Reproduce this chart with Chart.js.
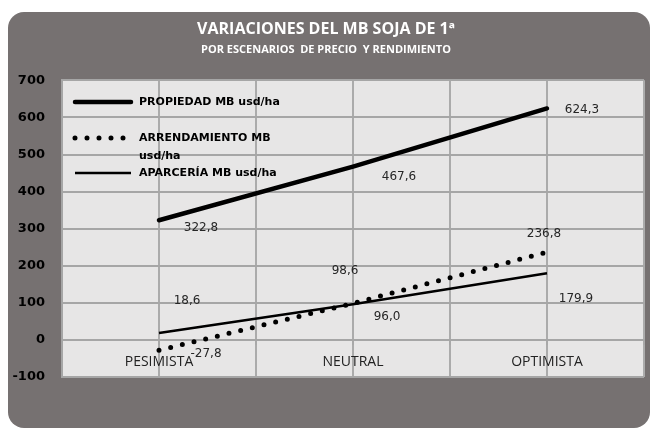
<!DOCTYPE html>
<html><head><meta charset="utf-8">
<script src="https://cdn.jsdelivr.net/npm/chart.js@4.4.0/dist/chart.umd.min.js"></script>
<style>html,body{margin:0;padding:0;background:#fff;}canvas{display:block;}</style>
</head><body>
<canvas id="c" width="654" height="429"></canvas>
<script>
// ---- data ----
const categories = ['PESIMISTA', 'NEUTRAL', 'OPTIMISTA'];
const propiedad = [322.8, 467.6, 624.3];
const arrendamiento = [-27.8, 98.6, 236.8];
const aparceria = [18.6, 96.0, 179.9];
const seriesNames = ['PROPIEDAD MB usd/ha', 'ARRENDAMIENTO MB usd/ha', 'APARCERÍA MB usd/ha'];
const yMin = -100, yMax = 700, yStep = 100;
const titleText = 'VARIACIONES DEL MB SOJA DE 1ª';
const subtitleText = 'POR ESCENARIOS  DE PRECIO  Y RENDIMIENTO';

// category i is drawn at x = 2i+1 on a 0..6 axis (grid at centres and boundaries)
const toPts = vals => vals.map((v, i) => ({ x: 2 * i + 1, y: v }));
const fmt = v => v.toFixed(1).replace('.', ',');

// label offsets (layout only)
const labelOffsets = [
  [[42, 8], [46, 10], [35, 1]],
  [[47, 4], [-8, -32], [-3, -18]],
  [[28, -32], [34, 13], [29, 26]]
];

const bgPlugin = {
  id: 'bg',
  beforeDraw(chart) {
    const ctx = chart.ctx, a = chart.chartArea;
    ctx.save();
    ctx.fillStyle = '#ffffff';
    ctx.fillRect(0, 0, chart.width, chart.height);
    ctx.fillStyle = '#767171';
    ctx.beginPath();
    ctx.roundRect(8, 12, 642, 416, 16);
    ctx.fill();
    ctx.fillStyle = '#e7e6e6';
    ctx.fillRect(a.left, a.top, a.right - a.left, a.bottom - a.top);
    ctx.restore();
  }
};

const labelPlugin = {
  id: 'vlabels',
  afterDatasetsDraw(chart) {
    const ctx = chart.ctx;
    ctx.save();
    ctx.font = '12px "DejaVu Sans"';
    ctx.fillStyle = '#262626';
    ctx.textAlign = 'center';
    ctx.textBaseline = 'middle';
    chart.data.datasets.forEach((ds, di) => {
      const meta = chart.getDatasetMeta(di);
      meta.data.forEach((pt, i) => {
        const o = labelOffsets[di][i];
        ctx.fillText(fmt(ds.data[i].y), pt.x + o[0], pt.y + o[1]);
      });
    });
    ctx.restore();
  }
};

const legendPlugin = {
  id: 'inlegend',
  afterDatasetsDraw(chart) {
    const ctx = chart.ctx;
    const rows = [102, 138, 173];
    const x0 = 75, x1 = 131, tx = 139, maxW = 146, lh = 18;
    ctx.save();
    ctx.font = 'bold 11px "DejaVu Sans"';
    ctx.fillStyle = '#000';
    ctx.textBaseline = 'middle';
    ctx.textAlign = 'left';
    chart.data.datasets.forEach((ds, di) => {
      const y = rows[di];
      ctx.beginPath();
      ctx.strokeStyle = ds.borderColor;
      ctx.lineWidth = ds.borderWidth;
      ctx.lineCap = ds.borderCapStyle || 'butt';
      ctx.setLineDash(ds.borderDash || []);
      ctx.moveTo(x0, y);
      ctx.lineTo(x1, y);
      ctx.stroke();
      ctx.setLineDash([]);
      const words = ds.label.split(' ');
      const lines = [];
      let cur = '';
      words.forEach(w => {
        const t = cur ? cur + ' ' + w : w;
        if (ctx.measureText(t).width > maxW && cur) { lines.push(cur); cur = w; }
        else cur = t;
      });
      lines.push(cur);
      lines.forEach((l, li) => ctx.fillText(l, tx, y + li * lh));
    });
    ctx.restore();
  }
};

new Chart(document.getElementById('c'), {
  type: 'line',
  data: {
    datasets: [
      { label: seriesNames[0], data: toPts(propiedad), borderColor: '#000', borderWidth: 4.5, borderCapStyle: 'round', pointRadius: 0, tension: 0 },
      { label: seriesNames[1], data: toPts(arrendamiento), borderColor: '#000', borderWidth: 5, borderCapStyle: 'round', borderDash: [0, 12], pointRadius: 0, tension: 0 },
      { label: seriesNames[2], data: toPts(aparceria), borderColor: '#000', borderWidth: 2.5, pointRadius: 0, tension: 0 }
    ]
  },
  options: {
    responsive: false,
    animation: false,
    layout: { padding: { left: 8, right: 10, top: 12, bottom: 52 } },
    plugins: {
      legend: { display: false },
      tooltip: { enabled: false },
      title: {
        display: true, text: titleText, color: '#ffffff',
        font: { family: '"Open Sans"', size: 16, weight: 'bold' },
        padding: { top: 8, bottom: 0 }
      },
      subtitle: {
        display: true, text: subtitleText, color: '#ffffff',
        font: { family: '"Open Sans"', size: 11, weight: 'bold' },
        padding: { top: 4, bottom: 24 }
      }
    },
    scales: {
      xg: {
        type: 'linear', axis: 'x', min: 0, max: 6, position: { y: 0 },
        ticks: { display: false, stepSize: 1, autoSkip: false },
        grid: { color: '#ababab', lineWidth: 2, drawTicks: false },
        border: { display: false }
      },
      x: {
        type: 'linear', min: 0, max: 6, position: { y: 0 },
        ticks: {
          stepSize: 1, autoSkip: false,
          callback: v => (v % 2 === 1 ? categories[(v - 1) / 2] : ''),
          font: { family: '"Open Sans"', size: 14 }, color: '#222', padding: 10
        },
        grid: { color: '#ababab', lineWidth: 2, drawTicks: true, tickLength: 4, tickColor: '#a8a8a8' },
        border: { color: '#a6a6a6', width: 2 }
      },
      y: {
        min: yMin, max: yMax,
        ticks: { stepSize: yStep, font: { family: '"DejaVu Sans"', size: 13, weight: 'bold' }, color: '#000', padding: 17 },
        grid: { color: '#a6a6a6', lineWidth: 2, drawTicks: false },
        border: { color: '#a6a6a6', width: 2 },
        afterFit: s => { s.width = 54; }
      }
    }
  },
  plugins: [bgPlugin, labelPlugin, legendPlugin]
});
</script>
</body></html>
